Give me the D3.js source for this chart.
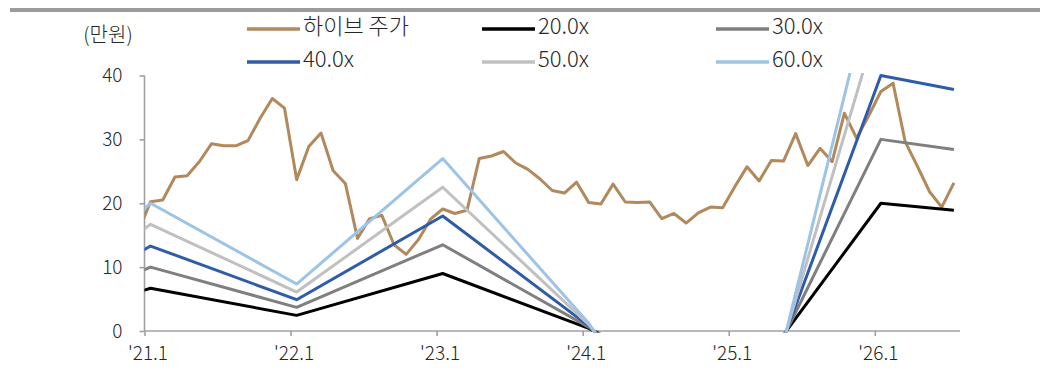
<!DOCTYPE html>
<html>
<head>
<meta charset="utf-8">
<script src="https://cdn.jsdelivr.net/npm/d3@7"></script>
<style>
  body { margin: 0; background: #fff; }
  svg { display: block; }
  text { font-family: "Noto Sans CJK KR Light", "Noto Sans CJK KR", "Noto Sans", sans-serif; font-weight: 300; fill: #262626; }
</style>
</head>
<body>
<script>
// monthly share price (만원), Dec 2020 .. Jul 2026
var priceMonths = ["2020-12",
  "2021-01","2021-02","2021-03","2021-04","2021-05","2021-06","2021-07","2021-08","2021-09","2021-10","2021-11","2021-12",
  "2022-01","2022-02","2022-03","2022-04","2022-05","2022-06","2022-07","2022-08","2022-09","2022-10","2022-11","2022-12",
  "2023-01","2023-02","2023-03","2023-04","2023-05","2023-06","2023-07","2023-08","2023-09","2023-10","2023-11","2023-12",
  "2024-01","2024-02","2024-03","2024-04","2024-05","2024-06","2024-07","2024-08","2024-09","2024-10","2024-11","2024-12",
  "2025-01","2025-02","2025-03","2025-04","2025-05","2025-06","2025-07","2025-08","2025-09","2025-10","2025-11","2025-12",
  "2026-01","2026-02","2026-03","2026-04","2026-05","2026-06","2026-07"];
var priceValues = [15.6,
  20.25, 20.5, 24.1, 24.3, 26.5, 29.3, 29.0, 29.0, 29.8, 33.3, 36.4, 34.9,
  23.7, 28.9, 31.0, 25.1, 23.1, 14.5, 17.6, 18.1, 13.5, 12.0, 14.3, 17.5,
  19.1, 18.4, 18.9, 27.0, 27.4, 28.1, 26.3, 25.3, 23.8, 22.0, 21.6, 23.3,
  20.1, 19.9, 23.0, 20.2, 20.1, 20.2, 17.6, 18.4, 16.9, 18.5, 19.4, 19.3,
  22.6, 25.7, 23.5, 26.7, 26.6, 30.9, 25.9, 28.6, 26.5, 34.1, 30.2, 33.7,
  37.5, 38.8, 29.6, 25.8, 21.8, 19.4, 23.2];

// PER band anchor months and values (만원)
var bandMonths = ["2020-12","2021-01","2022-01","2023-01","2024-01","2025-01","2026-01","2026-07"];
var band20 = [6.1, 6.7, 2.45, 9.0, 0.4, -10.9, 20.0, 18.9];
var band30 = [9.2, 10.0, 3.7, 13.5, 0.6, -16.4, 30.0, 28.4];
var band40 = [12.2, 13.3, 4.9, 18.0, 0.8, -21.8, 40.0, 37.8];
var band50 = [15.3, 16.7, 6.1, 22.5, 1.0, -27.3, 50.0, 47.3];
var band60 = [18.3, 20.0, 7.35, 27.0, 1.2, -32.7, 60.0, 56.7];

var seriesNames = ["하이브 주가", "20.0x", "30.0x", "40.0x", "50.0x", "60.0x"];
var seriesColors = ["#b1895c", "#000000", "#7f7f7f", "#2e5caa", "#c0c0c0", "#9dc3e6"];

var xTickValues = [0, 12, 24, 36, 48, 60];
var xTickLabels = ["'21.1", "'22.1", "'23.1", "'24.1", "'25.1", "'26.1"];
var yTickValues = [0, 10, 20, 30, 40];

var W = 1040, H = 372;
var svg = d3.select("body").append("svg").attr("width", W).attr("height", H);

// month string -> month index from Jan 2021 (points centred in their month)
function monthIdx(s) {
  var p = s.split("-");
  return (+p[0] - 2021) * 12 + (+p[1] - 1) + 0.5;
}

var x = d3.scaleLinear().domain([0, 67]).range([144.5, 960]);
var y = d3.scaleLinear().domain([0, 40]).range([331, 75.5]);

// top rule
svg.append("line").attr("x1", 10).attr("x2", W).attr("y1", 10).attr("y2", 10)
  .attr("stroke", "#9b9b9b").attr("stroke-width", 4);

svg.append("defs").append("clipPath").attr("id", "plot")
  .append("rect").attr("x", x(0)).attr("y", y(40) - 2.5)
  .attr("width", x(67) - x(0) + 4).attr("height", y(0) - y(40) + 4);

var line = d3.line()
  .x(function(d){ return x(monthIdx(d.m)); })
  .y(function(d){ return y(d.v); });

function zipSeries(months, vals) {
  return months.map(function(m, i){ return {m: m, v: vals[i]}; });
}

var allSeries = [
  zipSeries(priceMonths, priceValues),
  zipSeries(bandMonths, band20),
  zipSeries(bandMonths, band30),
  zipSeries(bandMonths, band40),
  zipSeries(bandMonths, band50),
  zipSeries(bandMonths, band60)
];

// axes
var yAxis = svg.append("g").attr("transform", "translate(" + x(0) + ",0)")
  .call(d3.axisLeft(y).tickValues(yTickValues).tickSize(5).tickPadding(17));
var xAxis = svg.append("g").attr("transform", "translate(0," + y(0) + ")")
  .call(d3.axisBottom(x).tickValues(xTickValues).tickSize(5).tickPadding(11)
    .tickFormat(function(d, i){ return xTickLabels[i]; }));

[yAxis, xAxis].forEach(function(g){
  g.select(".domain").attr("stroke", "#a0a0a0").attr("stroke-width", 1.6);
  g.selectAll(".tick line").attr("stroke", "#a0a0a0").attr("stroke-width", 1.6);
  g.selectAll("text").attr("font-size", 19).attr("fill", "#262626")
    .attr("font-family", "'Noto Sans CJK KR Light', 'Noto Sans CJK KR', sans-serif").attr("font-weight", 300);
});
xAxis.selectAll("text").attr("dx", 3);
// keep domain lines to the plot corner only
xAxis.select(".domain").attr("d", "M" + x(0) + ",0H" + x(67));
yAxis.select(".domain").attr("d", "M0," + y(0) + "V" + y(40));

// lines
var plot = svg.append("g").attr("clip-path", "url(#plot)");
allSeries.forEach(function(s, i){
  plot.append("path").attr("d", line(s))
    .attr("fill", "none")
    .attr("stroke", seriesColors[i])
    .attr("stroke-width", 3)
    .attr("stroke-linejoin", "round");
});

// unit label
svg.append("text").attr("x", 108).attr("y", 37).attr("text-anchor", "middle")
  .attr("dominant-baseline", "middle").attr("font-size", 20).text("(만원)");

// legend: 3 columns x 2 rows
var legX = [247, 482, 716], legY = [29, 62];
seriesNames.forEach(function(name, i){
  var cx = legX[i % 3], cy = legY[Math.floor(i / 3)];
  svg.append("line").attr("x1", cx).attr("x2", cx + 53).attr("y1", cy).attr("y2", cy)
    .attr("stroke", seriesColors[i]).attr("stroke-width", 3.5);
  svg.append("text").attr("x", cx + 56).attr("y", cy - 1)
    .attr("dominant-baseline", "middle").attr("font-size", 22).text(name);
});
</script>
</body>
</html>
